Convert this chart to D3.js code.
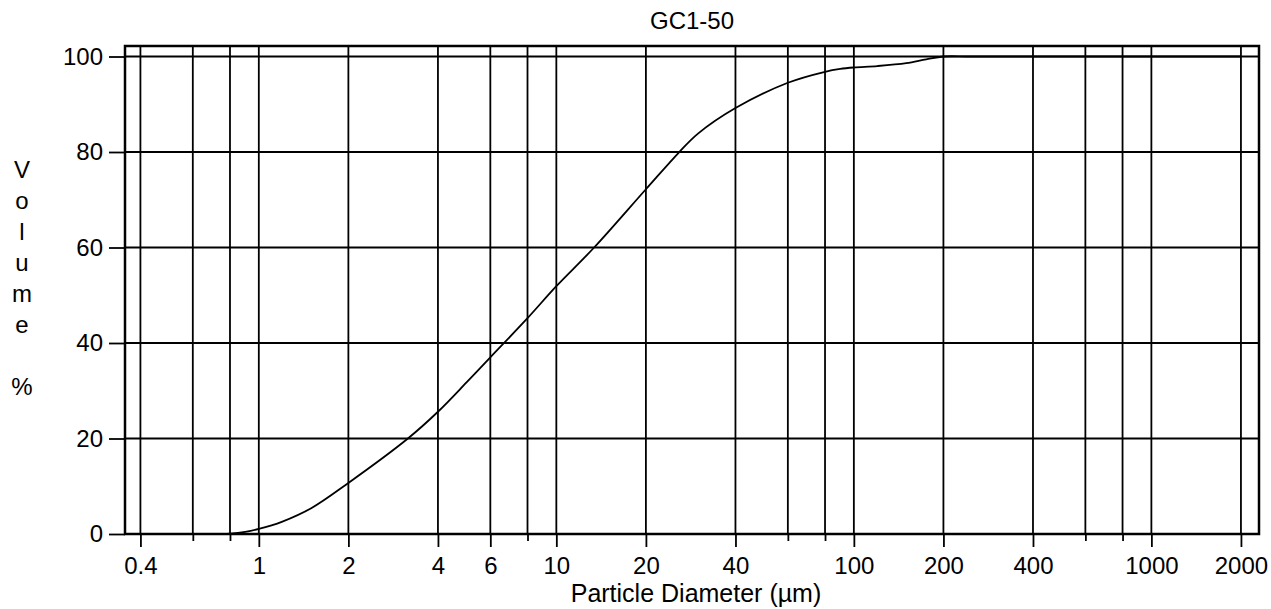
<!DOCTYPE html>
<html>
<head>
<meta charset="utf-8">
<script src="https://cdn.jsdelivr.net/npm/d3@7"></script>
<style>
  html, body { margin: 0; padding: 0; background: #fff; }
  svg { display: block; font-family: "Liberation Sans", Arial, Helvetica, sans-serif; }
</style>
</head>
<body>
<svg id="chart" width="1271" height="609"></svg>
<script>
// Cumulative particle size distribution, sample GC1-50
const chartTitle = "GC1-50";
const xAxisTitle = "Particle Diameter (µm)";
const yAxisLetters = ["V", "o", "l", "u", "m", "e", "", "%"];

// diameter (µm) and cumulative volume (%)
const diameters = [0.7, 0.8, 0.9, 1, 1.2, 1.5, 2, 3.17, 4, 5, 6, 8, 10, 13.4, 20, 25.9, 30, 40, 60, 80, 90, 100, 120, 150, 175, 200, 250, 2000];
const volumePct = [0, 0.1, 0.45, 1.05, 2.6, 5.4, 10.7, 20, 25.6, 31.8, 37, 45.2, 51.9, 60, 72.2, 80, 83.9, 89.2, 94.5, 96.8, 97.4, 97.7, 98.0, 98.6, 99.4, 100, 100, 100];

// axis ticks
const xDomain = [0.355, 2300];
const xGridValues = [0.4, 0.6, 0.8, 1, 2, 4, 6, 8, 10, 20, 40, 60, 80, 100, 200, 400, 600, 800, 1000, 2000];
const xLabelValues = [0.4, 1, 2, 4, 6, 10, 20, 40, 100, 200, 400, 1000, 2000];
const yDomain = [0, 102.2];
const yTickValues = [0, 20, 40, 60, 80, 100];

const plot = { left: 125, right: 1259, top: 46, bottom: 534 };

const svg = d3.select("#chart");

const x = d3.scaleLog().domain(xDomain).range([plot.left, plot.right]);
const y = d3.scaleLinear().domain(yDomain).range([plot.bottom, plot.top]);

// vertical grid
svg.append("g")
  .selectAll("line")
  .data(xGridValues)
  .join("line")
  .attr("x1", d => x(d)).attr("x2", d => x(d))
  .attr("y1", plot.top).attr("y2", plot.bottom)
  .attr("stroke", "#000").attr("stroke-width", 1.8);

// horizontal grid
svg.append("g")
  .selectAll("line")
  .data(yTickValues)
  .join("line")
  .attr("x1", plot.left).attr("x2", plot.right)
  .attr("y1", d => y(d)).attr("y2", d => y(d))
  .attr("stroke", "#000").attr("stroke-width", 1.8);

// x axis
const xAxis = d3.axisBottom(x)
  .tickValues(xGridValues)
  .tickFormat(d => xLabelValues.includes(d) ? String(d) : "")
  .tickSize(13);

const gx = svg.append("g")
  .attr("transform", `translate(0,${plot.bottom})`)
  .call(xAxis);
gx.select(".domain").remove();
gx.selectAll(".tick line")
  .attr("stroke", "#000").attr("stroke-width", 1.8)
  .attr("y2", d => xLabelValues.includes(d) ? 13 : 7);
gx.selectAll(".tick text")
  .attr("fill", "#000")
  .attr("y", 40).attr("dy", 0)
  .style("font-size", "24px")
  .style("font-family", "'Liberation Sans', Arial, sans-serif");

// y axis
const yAxis = d3.axisLeft(y)
  .tickValues(yTickValues)
  .tickFormat(d3.format("d"))
  .tickSize(16)
  .tickPadding(6);

const gy = svg.append("g")
  .attr("transform", `translate(${plot.left},0)`)
  .call(yAxis);
gy.select(".domain").remove();
gy.selectAll(".tick line").attr("stroke", "#000").attr("stroke-width", 1.8);
gy.selectAll(".tick text")
  .attr("fill", "#000")
  .style("font-size", "24px")
  .style("font-family", "'Liberation Sans', Arial, sans-serif");

// distribution curve
const line = d3.line()
  .x((d, i) => x(diameters[i]))
  .y(d => y(d))
  .curve(d3.curveCatmullRom.alpha(0.5));

svg.append("path")
  .datum(volumePct)
  .attr("d", line)
  .attr("fill", "none")
  .attr("stroke", "#000")
  .attr("stroke-width", 1.8);

// plot frame
svg.append("rect")
  .attr("x", plot.left).attr("y", plot.top)
  .attr("width", plot.right - plot.left)
  .attr("height", plot.bottom - plot.top)
  .attr("fill", "none")
  .attr("stroke", "#000").attr("stroke-width", 2.5);

// title
svg.append("text")
  .attr("x", (plot.left + plot.right) / 2)
  .attr("y", 29)
  .attr("text-anchor", "middle")
  .style("font-size", "24px")
  .text(chartTitle);

// x axis title
svg.append("text")
  .attr("x", (plot.left + plot.right) / 2 + 4)
  .attr("y", 602)
  .attr("text-anchor", "middle")
  .style("font-size", "25px")
  .text(xAxisTitle);

// y axis title, one letter per line
svg.append("g")
  .selectAll("text")
  .data(yAxisLetters)
  .join("text")
  .attr("x", 22)
  .attr("y", (d, i) => 178 + i * 31)
  .attr("text-anchor", "middle")
  .style("font-size", "24px")
  .text(d => d);
</script>
</body>
</html>
